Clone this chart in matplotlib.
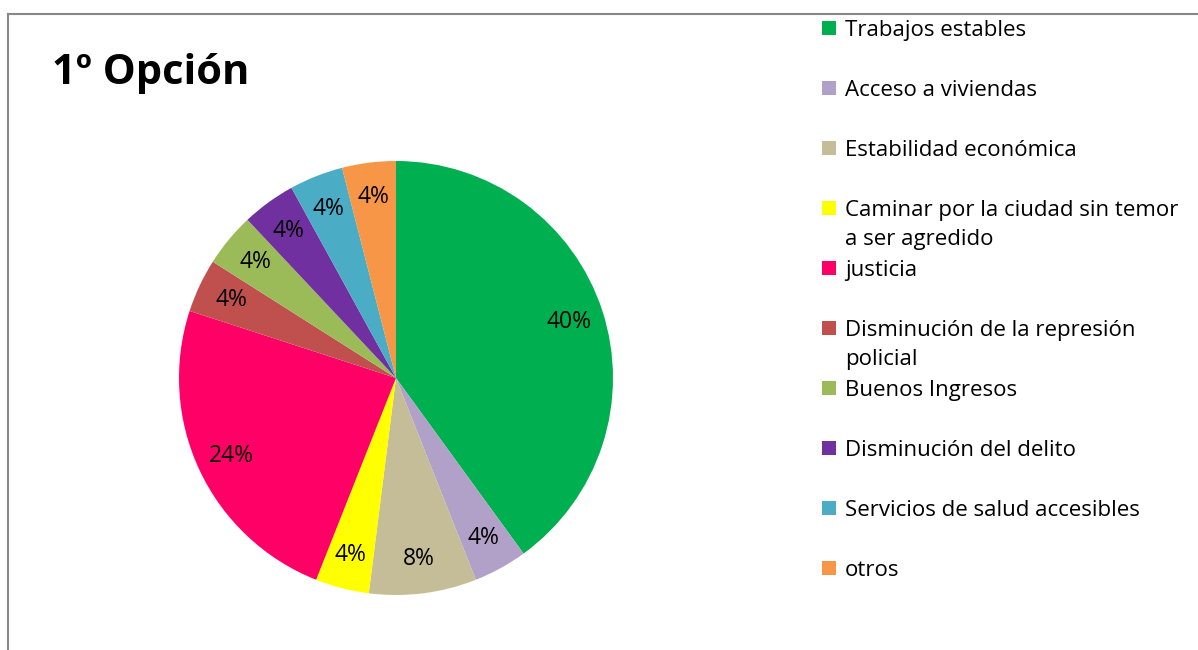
import matplotlib.pyplot as plt
from matplotlib.patches import Rectangle

plt.rcParams['font.family'] = ['Open Sans', 'DejaVu Sans']

labels = ["Trabajos estables", "Acceso a viviendas", "Estabilidad económica",
          "Caminar por la ciudad sin temor\na ser agredido", "justicia",
          "Disminución de la represión\npolicial", "Buenos Ingresos",
          "Disminución del delito", "Servicios de salud accesibles", "otros"]
values = [40, 4, 8, 4, 24, 4, 4, 4, 4, 4]
colors = ["#00B050", "#B1A0C7", "#C4BD97", "#FFFF00", "#FF0066",
          "#C0504D", "#9BBB59", "#7030A0", "#4BACC6", "#F79646"]

W, H = 1198, 650
fig = plt.figure(figsize=(W / 100, H / 100), dpi=100)

# frame lines (top and left)
fig.add_artist(plt.Line2D([8 / W, 8 / W], [0, 1 - 14 / H], color="#888888", lw=1.5))
fig.add_artist(plt.Line2D([8 / W, 1], [1 - 14 / H, 1 - 14 / H], color="#888888", lw=1.5))

cx, cy, r = 396, 378, 217
ax = fig.add_axes([(cx - r) / W, (H - cy - r) / H, 2 * r / W, 2 * r / H])
wedges, texts, autotexts = ax.pie(values, colors=colors, startangle=90, counterclock=False,
                                  autopct=lambda p: f"{p:.0f}%", pctdistance=0.84,
                                  radius=1, textprops=dict(fontsize=16.5, color="black"))
ax.set_xlim(-1, 1)
ax.set_ylim(-1, 1)
ax.set_aspect("equal")

fig.text(52 / W, 1 - 74 / H, "1º Opción", fontsize=30, fontweight="bold", va="center")

# legend drawn by hand
for i, (lab, col) in enumerate(zip(labels, colors)):
    y = 28 + 60 * i
    fig.add_artist(Rectangle((822 / W, 1 - (y + 7) / H), 14 / W, 14 / H,
                             facecolor=col, edgecolor="none", transform=fig.transFigure))
    fig.text(845 / W, 1 - (y - 8) / H, lab, fontsize=16, va="top", linespacing=1.5)

fig.savefig("out.png", dpi=100)
